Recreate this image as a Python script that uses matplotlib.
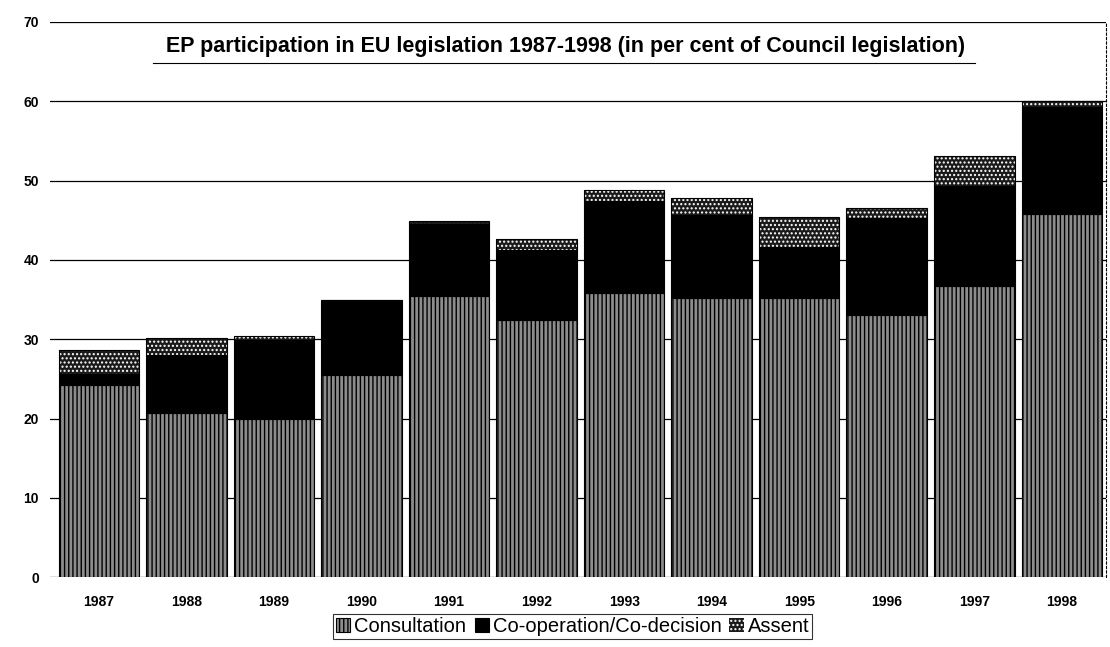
import matplotlib
matplotlib.use("Agg")
import matplotlib.pyplot as plt
import numpy as np

plt.rcParams['font.family'] = ['Liberation Sans', 'DejaVu Sans']

years = ['1987', '1988', '1989', '1990', '1991', '1992', '1993', '1994',
         '1995', '1996', '1997', '1998']
consultation = [24.2, 20.7, 20.0, 25.5, 35.5, 32.4, 35.8, 35.2, 35.2, 33.0, 36.7, 45.8]
cooperation = [1.4, 7.3, 9.9, 9.5, 9.0, 8.8, 11.6, 10.4, 6.4, 12.3, 12.6, 13.5]
assent = [3.1, 2.1, 0.5, 0.0, 0.4, 1.4, 1.4, 2.2, 3.8, 1.3, 3.8, 0.7]

title = "EP participation in EU legislation 1987-1998 (in per cent of Council legislation)"
yticks = [0, 10, 20, 30, 40, 50, 60, 70]

fig = plt.figure(figsize=(11.1, 6.47), dpi=100)
ax = fig.add_axes([0.045, 0.108, 0.951, 0.858])

x = np.arange(len(years))
w = 0.92
c = np.array(consultation)
co = np.array(cooperation)
a = np.array(assent)

b1 = ax.bar(x, c, w, facecolor='#8c8c8c', edgecolor='black', hatch='||||', linewidth=0.8,
            label='Consultation', zorder=3)
b2 = ax.bar(x, co, w, bottom=c, facecolor='black', edgecolor='black', linewidth=0.8,
            label='Co-operation/Co-decision', zorder=3)
b3 = ax.bar(x, a, w, bottom=c + co, facecolor='#1a1a1a', edgecolor='white', hatch='....',
            linewidth=0, label='Assent', zorder=3)
# outline for assent segments
ax.bar(x, a, w, bottom=c + co, facecolor='none', edgecolor='black', linewidth=0.8, zorder=4)

ax.set_ylim(0, 70)
ax.set_xlim(-0.56, 11.5)
ax.set_yticks(yticks)
ax.set_yticklabels([str(t) for t in yticks], fontsize=10, fontweight='bold')
ax.set_xticks(x)
ax.set_xticklabels(years, fontsize=10, fontweight='bold')
ax.tick_params(axis='x', length=0, pad=13)
ax.tick_params(axis='y', length=0, pad=8)
ax.yaxis.grid(True, color='black', linewidth=0.9, zorder=0)
for s in ['top', 'left', 'bottom']:
    ax.spines[s].set_visible(False)
ax.spines['right'].set_linestyle((0, (2, 2)))
ax.spines['right'].set_linewidth(0.8)

ax.text(0.488, 0.955, title, transform=ax.transAxes, ha='center', va='center',
        fontsize=15.5, fontweight='bold')
ax.plot([0.098, 0.876], [0.926, 0.926], transform=ax.transAxes, color='black', lw=0.8)

leg = fig.legend(handles=[b1, b2, b3], loc='center', bbox_to_anchor=(0.516, 0.032),
                 ncol=3, fontsize=14.5, frameon=True, fancybox=False, edgecolor='black',
                 handlelength=0.7, handleheight=0.7, handletextpad=0.2, columnspacing=0.4,
                 borderpad=0.15)
leg.get_frame().set_linewidth(0.8)

fig.savefig('out.png', dpi=100)
